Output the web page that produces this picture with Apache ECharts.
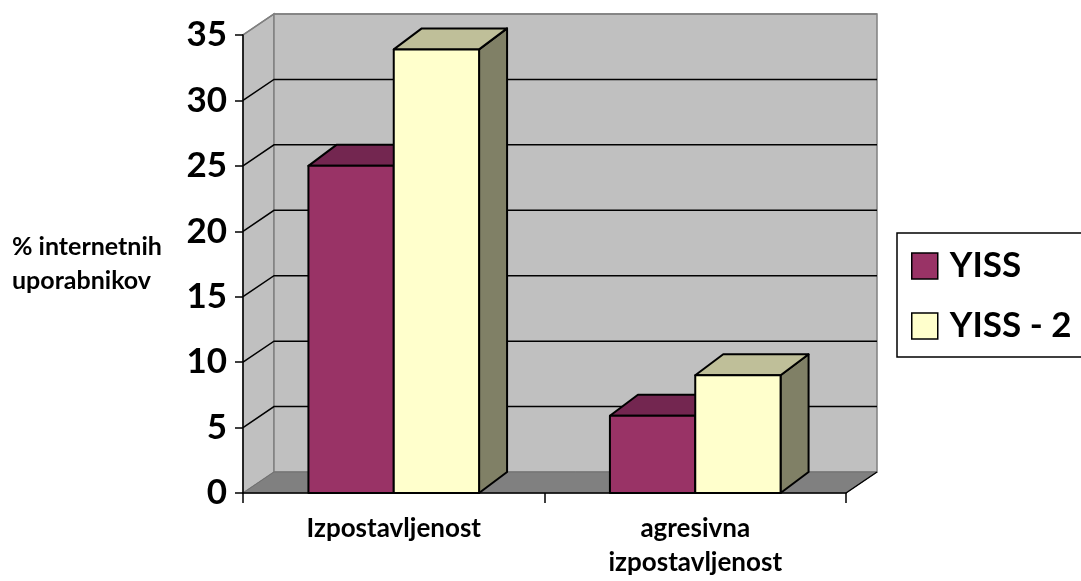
<!DOCTYPE html>
<html>
<head>
<meta charset="utf-8">
<script src="https://cdn.jsdelivr.net/npm/echarts@6/dist/echarts.min.js"></script>
<style>
  html, body { margin: 0; padding: 0; background: #fff; }
  #chart { width: 1081px; height: 581px; }
</style>
</head>
<body>
<div id="chart"></div>
<script>
// data
var categories = ['Izpostavljenost', 'agresivna\nizpostavljenost'];
var seriesNames = ['YISS', 'YISS - 2'];
var yiss = [25, 5.9];
var yiss2 = [33.9, 9];
var yTicks = [0, 5, 10, 15, 20, 25, 30, 35];

var FONT = 'Lato';
// perspective offsets (px)
var WALL_DX = 31, WALL_DY = -21;
var BAR_DX = 28, BAR_DY = -21;
var BAR_W = 0.283; // share of the category band per bar

var myChart = echarts.init(document.getElementById('chart'));

function wallsItem(params, api) {
  var cs = params.coordSys;
  var x0 = cs.x, x1 = cs.x + cs.width;
  var yB = api.coord([0, 0])[1];
  var yT = api.coord([0, yTicks[yTicks.length - 1]])[1];
  var children = [];
  // side wall
  children.push({
    type: 'polygon',
    shape: { points: [[x0, yB], [x0, yT], [x0 + WALL_DX, yT + WALL_DY], [x0 + WALL_DX, yB + WALL_DY]] },
    style: { fill: '#c0c0c0', stroke: '#808080', lineWidth: 1.5 }
  });
  // back wall
  children.push({
    type: 'rect',
    shape: { x: x0 + WALL_DX, y: yT + WALL_DY, width: x1 - x0, height: yB - yT },
    style: { fill: '#c0c0c0', stroke: '#808080', lineWidth: 1.5 }
  });
  // floor
  children.push({
    type: 'polygon',
    shape: { points: [[x0, yB], [x1, yB], [x1 + WALL_DX, yB + WALL_DY], [x0 + WALL_DX, yB + WALL_DY]] },
    style: { fill: '#808080', stroke: '#707070', lineWidth: 1 }
  });
  children.push({
    type: 'line',
    shape: { x1: x1, y1: yB, x2: x1 + WALL_DX, y2: yB + WALL_DY },
    style: { stroke: '#000', lineWidth: 1.5 }
  });
  // gridlines on side and back wall
  yTicks.forEach(function (v) {
    if (v === 0) return;
    var y = api.coord([0, v])[1];
    children.push({
      type: 'polyline',
      shape: { points: [[x0, y], [x0 + WALL_DX, y + WALL_DY], [x1 + WALL_DX, y + WALL_DY]] },
      style: { stroke: v === yTicks[yTicks.length - 1] ? '#808080' : '#000', lineWidth: 1.5, fill: null }
    });
  });
  return { type: 'group', children: children };
}

function barRenderer(side, front, top, right) {
  return function (params, api) {
    var cat = api.value(0);
    var val = api.value(1);
    var c = api.coord([cat, val]);
    var base = api.coord([cat, 0]);
    var bw = api.size([1, 0])[0] * BAR_W;
    var xl = side === 0 ? c[0] - bw : c[0];
    var xr = xl + bw;
    var yt = c[1], yb = base[1];
    var border = { stroke: '#000', lineWidth: 2, lineJoin: 'round' };
    return {
      type: 'group',
      children: [
        {
          type: 'polygon',
          shape: { points: [[xr, yb], [xr, yt], [xr + BAR_DX, yt + BAR_DY], [xr + BAR_DX, yb + BAR_DY]] },
          style: Object.assign({ fill: right }, border)
        },
        {
          type: 'polygon',
          shape: { points: [[xl, yt], [xr, yt], [xr + BAR_DX, yt + BAR_DY], [xl + BAR_DX, yt + BAR_DY]] },
          style: Object.assign({ fill: top }, border)
        },
        {
          type: 'rect',
          shape: { x: xl, y: yt, width: bw, height: yb - yt },
          style: Object.assign({ fill: front }, border)
        }
      ]
    };
  };
}

var option = {
  animation: false,
  backgroundColor: '#fff',
  grid: { left: 243, top: 35, width: 603, height: 458, containLabel: false },
  legend: {
    orient: 'vertical',
    left: 897,
    top: 233,
    padding: [15, 20, 15, 14],
    borderWidth: 0,
    itemWidth: 26,
    itemHeight: 26,
    itemGap: 24,
    icon: 'rect',
    itemStyle: { borderColor: '#000', borderWidth: 1.5 },
    textStyle: { fontFamily: FONT, fontWeight: 'bold', fontSize: 35, color: '#000', lineHeight: 36, padding: [0, 0, 0, 7] },
    data: seriesNames
  },
  graphic: [{
    type: 'text',
    left: 12,
    top: 230,
    style: {
      text: '% internetnih\nuporabnikov',
      font: 'bold 25px ' + FONT,
      fill: '#000',
      align: 'center',
      lineHeight: 34
    }
  }, {
    // legend frame, running past the right edge like the original
    type: 'rect',
    silent: true,
    shape: { x: 897, y: 233, width: 220, height: 124 },
    style: { fill: null, stroke: '#000', lineWidth: 1.5 }
  }],
  xAxis: {
    type: 'category',
    data: categories,
    z: 10,
    axisLine: { lineStyle: { color: '#000', width: 1.5 } },
    axisTick: { show: true, length: 10, lineStyle: { color: '#000', width: 1.5 } },
    axisLabel: { color: '#000', fontFamily: FONT, fontWeight: 'bold', fontSize: 26, margin: 19, lineHeight: 34 }
  },
  yAxis: {
    type: 'value',
    min: 0,
    max: 35,
    interval: 5,
    z: 10,
    axisLine: { show: true, lineStyle: { color: '#000', width: 1.5 } },
    axisTick: { show: true, length: 8, lineStyle: { color: '#000', width: 1.5 } },
    splitLine: { show: false },
    axisLabel: { color: '#000', fontFamily: FONT, fontWeight: 'bold', fontSize: 35, margin: 16 }
  },
  series: [
    {
      type: 'custom',
      name: 'walls',
      silent: true,
      z: 1,
      renderItem: wallsItem,
      data: [[0, 0]]
    },
    {
      type: 'custom',
      name: seriesNames[0],
      z: 2,
      itemStyle: { color: '#993366' },
      renderItem: barRenderer(0, '#993366', '#732650', '#4d1a33'),
      data: yiss.map(function (v, i) { return [i, v]; })
    },
    {
      type: 'custom',
      name: seriesNames[1],
      z: 3,
      itemStyle: { color: '#ffffcc' },
      renderItem: barRenderer(1, '#ffffcc', '#bfbf99', '#808066'),
      data: yiss2.map(function (v, i) { return [i, v]; })
    }
  ]
};
myChart.setOption(option);
</script>
</body>
</html>
